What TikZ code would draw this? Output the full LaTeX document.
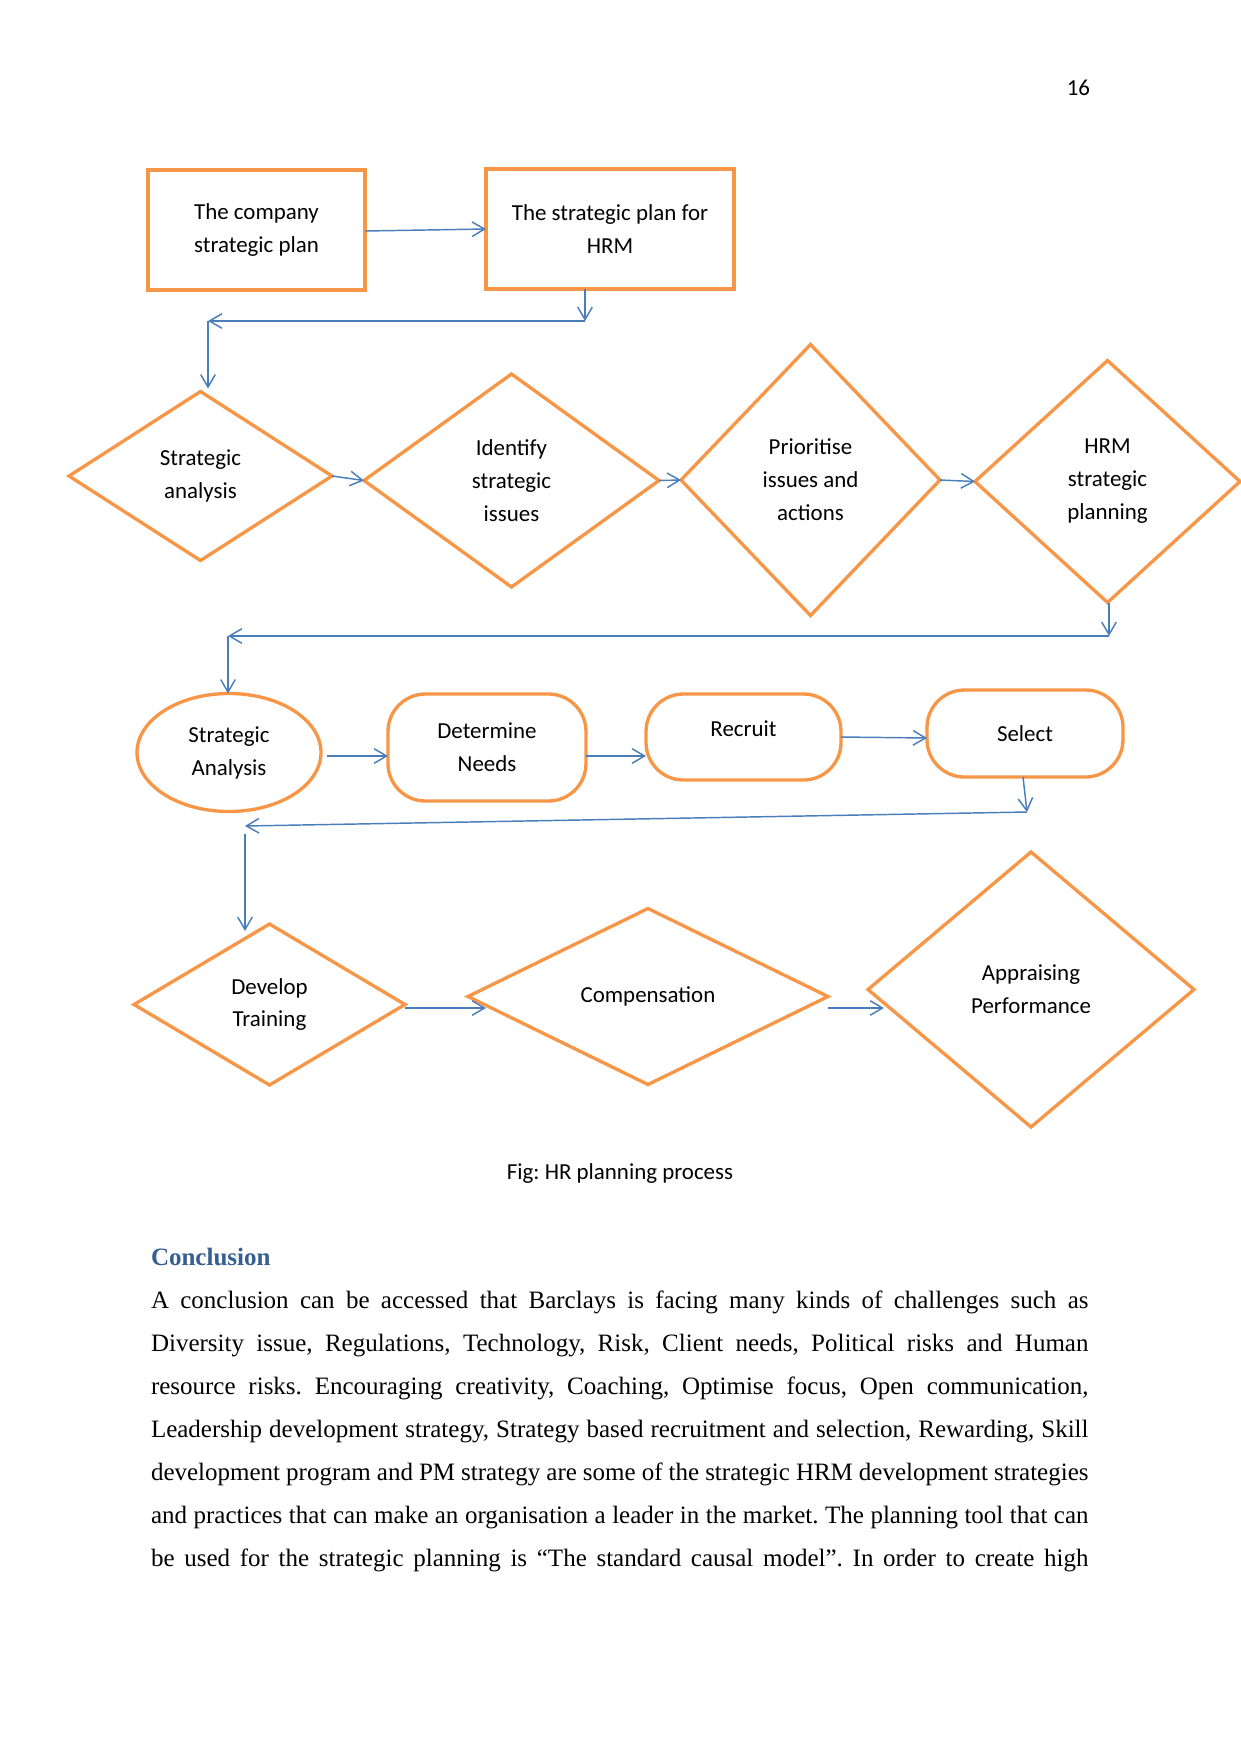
\documentclass[tikz,border=0pt]{standalone}
\usepackage{fontspec}
\setmainfont{Carlito}
\newfontfamily\timesf{Liberation Serif}
\usetikzlibrary{shapes.geometric,arrows.meta,calc}
\definecolor{orng}{HTML}{F79646}
\definecolor{cblue}{HTML}{4A7EBB}
\definecolor{headblue}{HTML}{365F91}
\frenchspacing
\begin{document}
\begin{tikzpicture}[x=0.48pt,y=-0.48pt,
  every node/.style={inner sep=0pt, outer sep=0pt},
  dtext/.style={font=\fontsize{11}{15.8}\selectfont, align=center},
  sz/.style 2 args={minimum width=#1*0.48pt, minimum height=#2*0.48pt},
  boxnode/.style={dtext, draw=orng, line width=1.6pt, rectangle},
  dia/.style={dtext, draw=orng, line width=1.6pt, diamond},
  ovalnode/.style={dtext, draw=orng, line width=1.6pt, ellipse},
  roundnode/.style={dtext, draw=orng, line width=1.6pt, rectangle, rounded corners=18pt},
  conn/.style={draw=cblue, line width=0.7pt, -{Straight Barb[length=6pt,width=7pt]}},
  body/.style={anchor=base west, font=\timesf\frenchspacing\fontsize{12}{14}\selectfont},
]
\useasboundingbox (0,0) rectangle (1241,1754);

% page number
\node[anchor=base east, font=\fontsize{11}{13}\selectfont] (pnum) at (1090,95) {16};

% row 1
\node[boxnode, sz={217}{120}] (b1) at (256.5,230) {The company\\strategic plan};
\node[boxnode, sz={248}{120}] (b2) at (610,229) {The strategic plan for\\HRM};

% row 2
\node[dia, sz={263}{169}] (d1) at (200.5,476) {Strategic\\analysis};
\node[dia, sz={295}{213}] (d2) at (511.5,480.5) {Identify\\strategic\\issues};
\node[dia, sz={259}{271}] (d3) at (810.5,480) {Prioritise\\issues and\\actions};
\node[dia, sz={265}{242}] (d4) at (1107.5,481.5) {HRM\\strategic\\planning};

% row 3
\node[ovalnode, sz={184}{118}] (ell) at (229,752.5) {Strategic\\Analysis};
\node[roundnode, sz={198}{107}] (dn) at (487,747.5) {Determine\\Needs};
\node[roundnode, sz={195}{86}, text height=7.5pt, text depth=8.2pt] (rec) at (743.5,737) {Recruit};
\node[roundnode, sz={196}{87}] (sel) at (1025,733.5) {Select};

% row 4
\node[dia, sz={271}{161}] (dt) at (269.5,1004.5) {Develop\\Training};
\node[dia, sz={360}{176}] (comp) at (648,996.5) {Compensation};
\node[dia, sz={326}{275}] (ap) at (1031,989.5) {Appraising\\Performance};

% bend points
\coordinate (k1) at (585,321);
\coordinate (k2) at (208,321);
\coordinate (k3) at (1109,636);
\coordinate (k4) at (228,636);
\coordinate (k5) at (1027,812);
\coordinate (k6) at (245,826);
\coordinate (k7) at (245,834);
\coordinate (k8) at (245,931);

% connectors
\draw[conn] (b1.east |- 0,231) -- (b2.west |- 0,229);
\draw[conn] (b2.south -| k1) -- (k1);
\draw[conn] (k1) -- (k2);
\draw[conn] (k2 |- 0,321) -- ($(k2 |- d1.north)+(0,-3)$);
\draw[conn] (d1.east) -- (d2.west);
\draw[conn] (d2.east) -- (d3.west);
\draw[conn] (d3.east) -- (d4.west);
\draw[conn] (d4.south -| k3) -- (k3);
\draw[conn] (k3) -- (k4);
\draw[conn] (k4) -- (k4 |- ell.north);
\draw[conn] ($(ell.east |- 0,756)+(6,0)$) -- (dn.west |- 0,756);
\draw[conn] (dn.east |- 0,756) -- (rec.west |- 0,756);
\draw[conn] (rec.east) -- (sel.west |- 0,738);
\draw[conn] ($(sel.south)+(-2,0)$) -- (k5);
\draw[conn] (k5) -- (k6);
\draw[conn] (k7) -- (k8);
\draw[conn] (dt.east |- 0,1008) -- ($(comp.west |- 0,1008)+(18,0)$);
\draw[conn] (comp.east |- 0,1008) -- ($(ap.west |- 0,1008)+(16,0)$);

% caption
\node[anchor=base, font=\fontsize{11}{13}\selectfont] (cap) at (620,1179) {Fig: HR planning process};

% conclusion
\node[anchor=base west, font=\timesf\bfseries\fontsize{12}{14}\selectfont, text=headblue] (head) at (151,1265) {Conclusion};
\node[body] (l1) at (151,1308) {\makebox[450pt][s]{A conclusion can be accessed that Barclays is facing many kinds of challenges such as}};
\node[body] (l2) at (151,1351) {\makebox[450pt][s]{Diversity issue, Regulations, Technology, Risk, Client needs, Political risks and Human}};
\node[body] (l3) at (151,1394) {\makebox[450pt][s]{resource risks. Encouraging creativity, Coaching, Optimise focus, Open communication,}};
\node[body] (l4) at (151,1437) {\makebox[450pt][s]{Leadership development strategy, Strategy based recruitment and selection, Rewarding, Skill}};
\node[body] (l5) at (151,1480) {\makebox[450pt][s]{development program and PM strategy are some of the strategic HRM development strategies}};
\node[body] (l6) at (151,1523.5) {\makebox[450pt][s]{and practices that can make an organisation a leader in the market. The planning tool that can}};
\node[body] (l7) at (151,1566.5) {\makebox[450pt][s]{be used for the strategic planning is “The standard causal model”. In order to create high}};
\end{tikzpicture}
\end{document}
